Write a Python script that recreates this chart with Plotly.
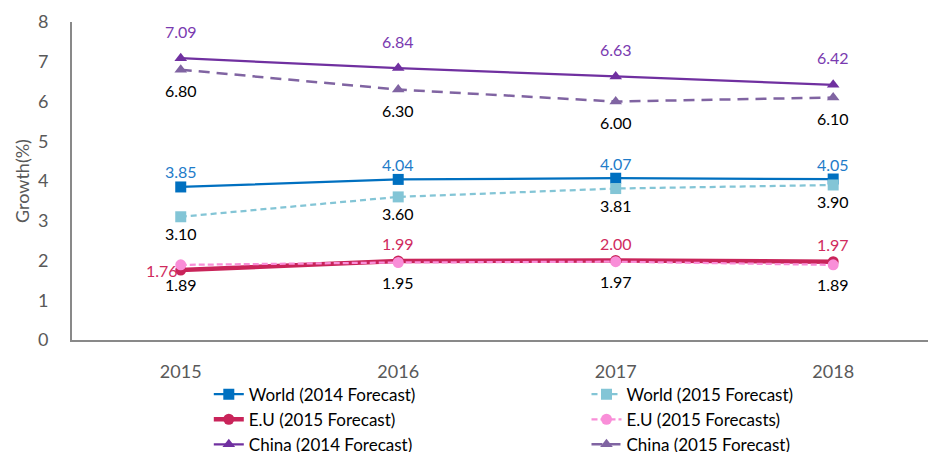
import plotly.graph_objects as go

years = ["2015", "2016", "2017", "2018"]
world_2014 = [3.85, 4.04, 4.07, 4.05]
world_2015 = [3.10, 3.60, 3.81, 3.90]
eu_2015 = [1.76, 1.99, 2.00, 1.97]
eu_2015s = [1.89, 1.95, 1.97, 1.89]
china_2014 = [7.09, 6.84, 6.63, 6.42]
china_2015 = [6.80, 6.30, 6.00, 6.10]
y_ticks = [0, 1, 2, 3, 4, 5, 6, 7, 8]

FONT = "Lato"

series = [
    dict(name="World (2014 Forecast)", y=world_2014, color="#0070C0", width=2.25, dash="solid",
         symbol="square", msize=11, legend="legend", label_color="#1F7CC9", shift=15),
    dict(name="World (2015 Forecast)", y=world_2015, color="#83C5D6", width=2.25, dash="6px,4px",
         symbol="square", msize=11, legend="legend2", label_color="#000000", shift=-17),
    dict(name="E.U (2015 Forecast)", y=eu_2015, color="#C9245A", width=4.5, dash="solid",
         symbol="circle", msize=11, legend="legend", label_color="#D02B5E", shift=17),
    dict(name="E.U (2015 Forecasts)", y=eu_2015s, color="#F98ED8", width=2.25, dash="6px,3px",
         symbol="circle", msize=11, legend="legend2", label_color="#000000", shift=-20),
    dict(name="China (2014 Forecast)", y=china_2014, color="#7030A0", width=2.25, dash="solid",
         symbol="triangle-up", msize=11, legend="legend", label_color="#7A3AB0", shift=27),
    dict(name="China (2015 Forecast)", y=china_2015, color="#8064A2", width=2.5, dash="11px,7px",
         symbol="triangle-up", msize=11, legend="legend2", label_color="#000000", shift=-21),
]

fig = go.Figure()
annotations = []
for s in series:
    fig.add_trace(go.Scatter(
        x=years, y=s["y"], name=s["name"], mode="lines+markers",
        line=dict(color=s["color"], width=s["width"], dash=s["dash"]),
        marker=dict(symbol=s["symbol"], size=s["msize"], color=s["color"]),
        legend=s["legend"],
    ))
    for i, yv in enumerate(s["y"]):
        xshift = 0
        yshift = s["shift"]
        if s["name"] == "E.U (2015 Forecast)" and i == 0:
            xshift, yshift = -19, 0
        annotations.append(dict(
            x=i, y=yv, xref="x", yref="y", text=f"{yv:.2f}", showarrow=False,
            xshift=xshift, yshift=yshift,
            font=dict(family=FONT, size=16, color=s["label_color"]),
        ))

# y-axis title
annotations.append(dict(
    text="Growth(%)", xref="paper", yref="paper", x=-0.0584, y=0.5,
    xanchor="center", yanchor="middle", textangle=-90, showarrow=False,
    font=dict(family=FONT, size=18, color="#595959"),
))

legend_common = dict(
    orientation="v", yanchor="top", xanchor="left",
    xref="container", yref="container",
    font=dict(family=FONT, size=17, color="#000000"),
    bgcolor="rgba(0,0,0,0)", borderwidth=0, itemclick=False,
)

fig.update_layout(
    width=928, height=452,
    margin=dict(l=72, r=0, t=22, b=112, autoexpand=False),
    paper_bgcolor="white", plot_bgcolor="white",
    font=dict(family=FONT),
    showlegend=True,
    legend=dict(x=0.225, y=0.1668, **legend_common),
    legend2=dict(x=0.632, y=0.1668, **legend_common),
    annotations=annotations,
    xaxis=dict(
        type="category", range=[-0.5, 3.436],
        showline=True, linecolor="#898989", linewidth=2,
        showgrid=False, zeroline=False, ticks="",
        tickfont=dict(family=FONT, size=18, color="#595959"),
        ticklabelstandoff=14,
    ),
    yaxis=dict(
        range=[0, 8], tickvals=y_ticks,
        showline=True, linecolor="#898989", linewidth=2,
        showgrid=False, zeroline=False, ticks="",
        tickfont=dict(family=FONT, size=18, color="#595959"),
        ticklabelstandoff=18,
    ),
)

fig.write_html("out.html", config={"displayModeBar": False},
               post_script="document.body.style.margin='0';")
